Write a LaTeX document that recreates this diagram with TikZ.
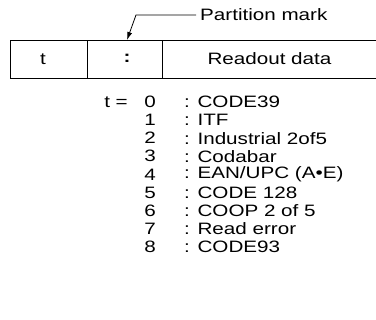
\documentclass[tikz,border=0pt]{standalone}
\usepackage{fontspec}
\setmainfont{Liberation Sans}[FakeStretch=1.25]
\usetikzlibrary{arrows.meta}

\begin{document}
\begin{tikzpicture}[
  x=1pt, y=-1pt,
  cell/.style={rectangle, draw, line width=0.8pt, minimum height=38pt,
               inner sep=0pt, anchor=north west},
  txt/.style={font=\fontsize{16.5}{18}\selectfont, inner sep=0pt},
  code/.style={txt, anchor=west},
  num/.style={txt, anchor=center},
  arrow/.style={-{Latex[length=8pt,width=5pt]}, line width=0.8pt}
]
  \useasboundingbox (0,0) rectangle (376,320);

  % field layout
  \node[cell, minimum width=77pt]  (tcell)    at (10,40)  {};
  \node[cell, minimum width=75pt]  (markcell) at (87,40)  {};
  \node[cell, minimum width=216pt] (datacell) at (162,40) {};
  \node[txt] (tlabel)    at (43,59)    {t};
  \node[txt] (colon)     at (127,58)   {\textbf{:}};
  \node[txt] (readout)   at (269.5,59) {Readout data};

  % partition mark
  \node[txt, anchor=west] (partition) at (200,15) {Partition mark};
  \coordinate (bend) at (136,15);
  \coordinate (tip)  at (127,40);
  \draw[arrow] ([xshift=-4pt]partition.west) -- (bend) -- (tip);

  % code table
  \node[txt, anchor=east] (teq) at (128,102) {t =};
  \foreach \i/\name in {0/CODE39, 1/ITF, 2/Industrial 2of5, 3/Codabar,
      4/{EAN/UPC (A•E)}, 5/CODE 128, 6/COOP 2 of 5, 7/Read error, 8/CODE93} {
    \node[num]  (n\i) at (150,102+18.1*\i) {\i};
    \node[code] (c\i) at (184,102+18.1*\i) {: \name};
  }
\end{tikzpicture}
\end{document}
